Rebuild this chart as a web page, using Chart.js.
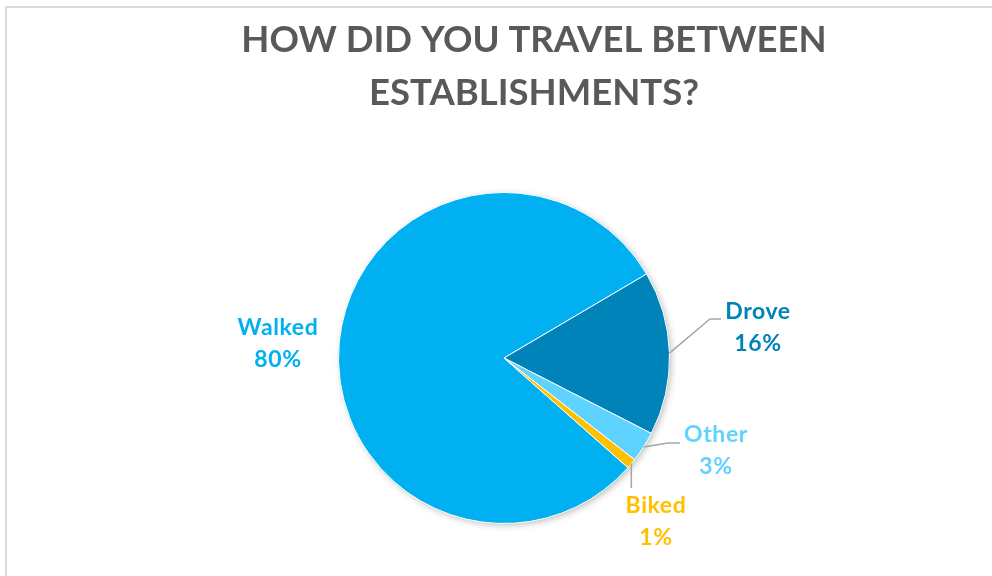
<!DOCTYPE html>
<html>
<head>
<meta charset="utf-8">
<script src="https://cdn.jsdelivr.net/npm/chart.js@4.4.1/dist/chart.umd.min.js"></script>
<style>
    html, body { margin: 0; padding: 0; background: #fff; }
    body { width: 992px; height: 576px; position: relative; overflow: hidden; }
    .frame {
        position: absolute; left: 5px; top: 6px; width: 1100px; height: 700px;
        border: 2px solid #d9d9d9; box-sizing: border-box;
    }
    #travel-chart { position: absolute; left: 0; top: 0; }
</style>
</head>
<body>
<div class="frame"></div>
<canvas id="travel-chart" width="992" height="576"></canvas>
<script>
    // ответы опроса, в процентах
    const categories = ['Walked', 'Drove', 'Other', 'Biked'];
    const shares = [80, 16, 3, 1];
    const sliceColors = ['#00b0f0', '#0083b9', '#5fd3ff', '#ffc000'];
    const titleLines = ['HOW DID YOU TRAVEL BETWEEN', 'ESTABLISHMENTS?'];

    // где стоят подписи относительно центра круга, и излом выноски
    const labelLayout = {
        Walked: { text: [-226, -14], leader: null },
        Drove: { text: [254, -30], leader: [[206, -39], [217, -39]] },
        Other: { text: [212, 93], leader: [[164, 85], [176, 85]] },
        Biked: { text: [152, 164], leader: [[0, 130]] }
    };

    // заголовок сдвинут правее центра круга, поэтому рисуем его сами
    const chartTitle = {
        id: 'chartTitle',
        afterDraw(chart) {
            const ctx = chart.ctx;
            ctx.save();
            ctx.fillStyle = '#595959';
            ctx.font = 'bold 36.5px Lato';
            ctx.textAlign = 'center';
            ctx.textBaseline = 'alphabetic';
            titleLines.forEach((line, i) => ctx.fillText(line, 534, 52 + i * 53));
            ctx.restore();
        }
    };

    // лёгкая тень под кругом
    const pieShadow = {
        id: 'pieShadow',
        beforeDatasetsDraw(chart) {
            const arc = chart.getDatasetMeta(0).data[0];
            if (!arc) return;
            const ctx = chart.ctx;
            ctx.save();
            ctx.shadowColor = 'rgba(0,0,0,0.28)';
            ctx.shadowBlur = 7;
            ctx.shadowOffsetX = 2;
            ctx.shadowOffsetY = 2;
            ctx.fillStyle = '#00b0f0';
            ctx.beginPath();
            ctx.arc(arc.x, arc.y, arc.outerRadius - 0.5, 0, Math.PI * 2);
            ctx.fill();
            ctx.restore();
        }
    };

    // подписи "название + процент" с выносками
    const outsideLabels = {
        id: 'outsideLabels',
        afterDatasetsDraw(chart) {
            const ctx = chart.ctx;
            const meta = chart.getDatasetMeta(0);
            meta.data.forEach((arc, i) => {
                const name = categories[i];
                const layout = labelLayout[name];
                const cx = arc.x, cy = arc.y;
                const mid = (arc.startAngle + arc.endAngle) / 2;
                const edgeX = cx + Math.cos(mid) * arc.outerRadius;
                const edgeY = cy + Math.sin(mid) * arc.outerRadius;

                if (layout.leader) {
                    ctx.save();
                    ctx.strokeStyle = '#a6a6a6';
                    ctx.lineWidth = 1.5;
                    ctx.beginPath();
                    ctx.moveTo(edgeX, edgeY);
                    layout.leader.forEach(p => {
                        // у Biked выноска идёт строго вниз
                        const px = name === 'Biked' ? edgeX : cx + p[0];
                        ctx.lineTo(px, cy + p[1]);
                    });
                    ctx.stroke();
                    ctx.restore();
                }

                ctx.save();
                ctx.fillStyle = sliceColors[i];
                ctx.font = 'bold 23px Lato';
                ctx.letterSpacing = '0.6px';
                ctx.textAlign = 'center';
                ctx.textBaseline = 'middle';
                const tx = cx + layout.text[0];
                const ty = cy + layout.text[1];
                ctx.fillText(name, tx, ty - 16);
                ctx.fillText(shares[i] + '%', tx, ty + 16);
                ctx.restore();
            });
        }
    };

    new Chart(document.getElementById('travel-chart'), {
        type: 'pie',
        data: {
            labels: categories,
            datasets: [{
                data: shares,
                backgroundColor: sliceColors,
                borderColor: '#ffffff',
                borderWidth: 1
            }]
        },
        options: {
            responsive: false,
            animation: false,
            rotation: 131.5,
            layout: { padding: { left: 16, right: 0, top: 192, bottom: 52 } },
            plugins: {
                legend: { display: false },
                tooltip: { enabled: false },
                title: { display: false }
            }
        },
        plugins: [pieShadow, outsideLabels, chartTitle]
    });
</script>
</body>
</html>
